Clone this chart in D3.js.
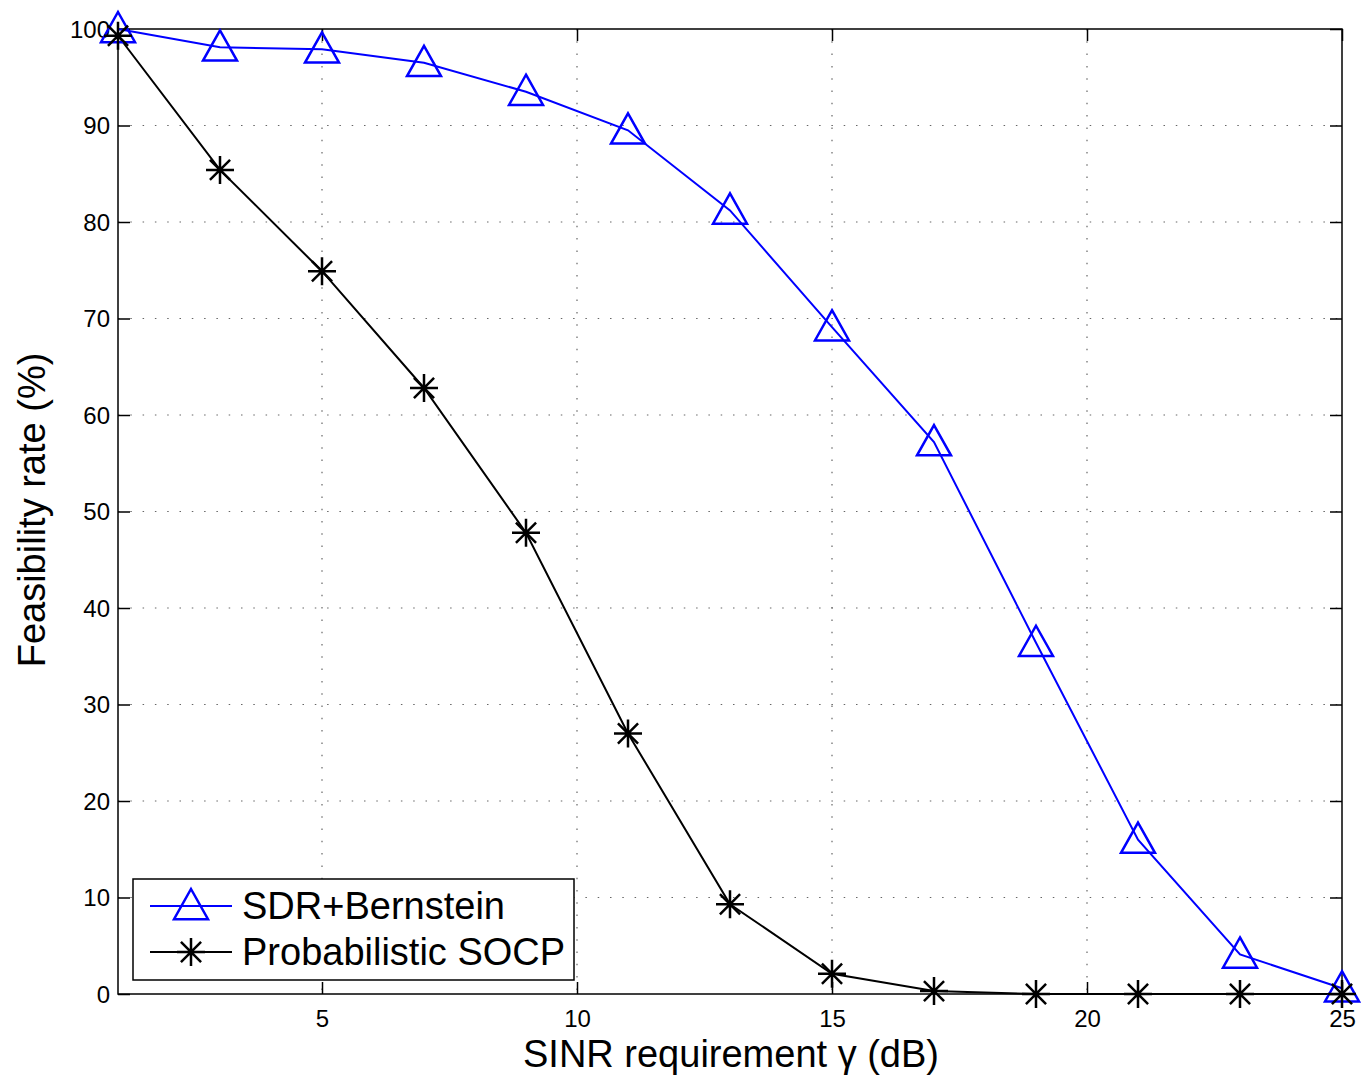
<!DOCTYPE html>
<html><head><meta charset="utf-8">
<script src="https://d3js.org/d3.v7.min.js"></script>
<style>body{margin:0;background:#fff}svg{display:block;font-family:"Liberation Sans",Arial,sans-serif}</style>
</head><body>
<svg id="c" width="1361" height="1075"></svg>
<script>
const xValues = [1,3,5,7,9,11,13,15,17,19,21,23,25];
const sdrValues = [100,98.1,97.9,96.5,93.5,89.5,81.2,69.1,57.2,36.4,16.0,4.1,0.6];
const socpValues = [99.3,85.4,74.9,62.8,47.8,27.0,9.3,2.1,0.3,0,0,0,0];
const xTicks = [5,10,15,20,25];
const yTicks = [0,10,20,30,40,50,60,70,80,90,100];
const seriesNames = ["SDR+Bernstein","Probabilistic SOCP"];

const svg = d3.select("#c");
const L=118, R=1342, T=29, B=994;
const x = d3.scaleLinear().domain([1,25]).range([L,R]);
const y = d3.scaleLinear().domain([0,100]).range([B,T]);

// grid
const g = svg.append("g");
g.selectAll(".gx").data(xTicks.filter(d=>d<25)).enter().append("line")
 .attr("x1",d=>x(d)).attr("x2",d=>x(d)).attr("y1",T).attr("y2",B)
 .attr("stroke","#666").attr("stroke-width",1.2).attr("stroke-dasharray","1.5,10.8");
g.selectAll(".gy").data(yTicks.filter(d=>d>0&&d<100)).enter().append("line")
 .attr("x1",L).attr("x2",R).attr("y1",d=>y(d)).attr("y2",d=>y(d))
 .attr("stroke","#666").attr("stroke-width",1.2).attr("stroke-dasharray","1.5,10.8");

// axes
const ax = svg.append("g").attr("transform",`translate(0,${B})`)
 .call(d3.axisBottom(x).tickValues(xTicks).tickSize(-12).tickPadding(16));
const ay = svg.append("g").attr("transform",`translate(${L},0)`)
 .call(d3.axisLeft(y).tickValues(yTicks).tickSize(-12).tickPadding(8));
const axT = svg.append("g").attr("transform",`translate(0,${T})`)
 .call(d3.axisTop(x).tickValues(xTicks).tickSize(-12).tickFormat(""));
const ayR = svg.append("g").attr("transform",`translate(${R},0)`)
 .call(d3.axisRight(y).tickValues(yTicks).tickSize(-12).tickFormat(""));
[ax,ay,axT,ayR].forEach(a=>{
  a.select(".domain").remove();
  a.selectAll("line").attr("stroke","#000").attr("stroke-width",1.5);
  a.selectAll("text").attr("fill","#000").style("font-size","24px").style("font-family","'Liberation Sans',Arial,sans-serif");
});
ay.selectAll("text").attr("dy","0.35em");
svg.append("rect").attr("x",L).attr("y",T).attr("width",R-L).attr("height",B-T)
 .attr("fill","none").attr("stroke","#000").attr("stroke-width",1.5);

// lines
const line = d3.line().x(d=>x(d[0])).y(d=>y(d[1]));
const sdr = xValues.map((v,i)=>[v,sdrValues[i]]);
const socp = xValues.map((v,i)=>[v,socpValues[i]]);
svg.append("path").attr("d",line(sdr)).attr("fill","none").attr("stroke","#0000ff").attr("stroke-width",2);
svg.append("path").attr("d",line(socp)).attr("fill","none").attr("stroke","#000").attr("stroke-width",2);

function tri(sel,cx,cy){
  const s=17;
  sel.append("path").attr("d",`M${cx},${cy-s}L${cx+s},${cy+s*0.78}L${cx-s},${cy+s*0.78}Z`)
   .attr("fill","none").attr("stroke","#0000ff").attr("stroke-width",2.5);
}
function star(sel,cx,cy){
  const r=14, d=r*0.72;
  sel.append("path").attr("d",`M${cx},${cy-r}V${cy+r}M${cx-r},${cy}H${cx+r}M${cx-d},${cy-d}L${cx+d},${cy+d}M${cx-d},${cy+d}L${cx+d},${cy-d}`)
   .attr("fill","none").attr("stroke","#000").attr("stroke-width",2.5);
}
const mk = svg.append("g");
sdr.forEach(d=>tri(mk,x(d[0]),y(d[1])));
socp.forEach(d=>star(mk,x(d[0]),y(d[1])));

// legend
const lg = svg.append("g");
lg.append("rect").attr("x",133).attr("y",879).attr("width",441).attr("height",101)
 .attr("fill","#fff").attr("stroke","#000").attr("stroke-width",1.5);
lg.append("line").attr("x1",150).attr("x2",232).attr("y1",906).attr("y2",906).attr("stroke","#0000ff").attr("stroke-width",2);
tri(lg,191,906);
lg.append("line").attr("x1",150).attr("x2",232).attr("y1",952).attr("y2",952).attr("stroke","#000").attr("stroke-width",2);
star(lg,191,952);
lg.selectAll("text").data(seriesNames).enter().append("text")
 .attr("x",242).attr("y",(d,i)=>906+i*46).attr("dy","0.35em")
 .style("font-size","38px").text(d=>d);

// axis labels
svg.append("text").attr("x",731).attr("y",1067).attr("text-anchor","middle").style("font-size","38px")
 .text("SINR requirement γ (dB)");
svg.append("text").attr("transform","translate(45,510) rotate(-90)").attr("text-anchor","middle").style("font-size","38px")
 .text("Feasibility rate (%)");
</script>
</body></html>
